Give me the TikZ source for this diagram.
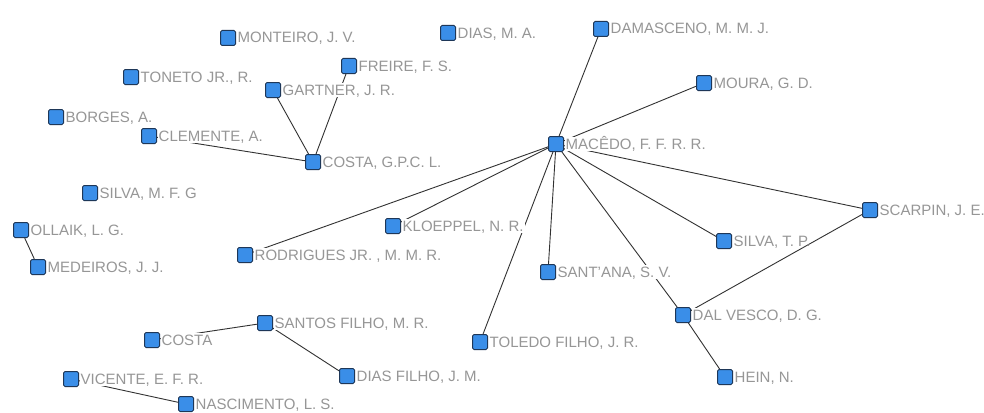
\documentclass[tikz,border=0pt]{standalone}
\usepackage{fontspec}
\setmainfont{Liberation Sans}
\usetikzlibrary{positioning,backgrounds}
\definecolor{nodeblue}{RGB}{58,142,232}
\definecolor{nodeedge}{RGB}{30,55,88}
\definecolor{lblgray}{RGB}{150,150,150}
\definecolor{edgegray}{RGB}{50,50,50}
\tikzset{
  sq/.style={draw=nodeedge, fill=nodeblue, line width=1pt, rounded corners=1.5pt,
    minimum size=15pt, inner sep=0pt},
  lbl/.style={text=lblgray, fill=white, font=\fontsize{15}{16}\selectfont,
    text height=11pt, text depth=1pt, inner xsep=1pt, inner ysep=1pt, anchor=west},
  nofill/.style={fill=none},
  link/.style={draw=edgegray, line width=0.9pt},
}
\newcommand{\person}[5][]{%
  \node[sq] (#2) at (#3,#4) {};
  \node[lbl,#1] (#2-l) at ([xshift=0.5pt]#2.east) {#5};}
\begin{document}
\begin{tikzpicture}[x=1pt,y=-1pt]
\useasboundingbox (0,0) rectangle (984,412);
\person{monteiro}{228}{38}{MONTEIRO, J. V.}
\person{dias}{448}{33}{DIAS, M. A.}
\person{damasceno}{601}{29}{DAMASCENO, M. M. J.}
\person{toneto}{131}{77}{TONETO JR., R.}
\person{freire}{349}{66}{FREIRE, F. S.}
\person{gartner}{273}{90}{GARTNER, J. R.}
\person{moura}{704}{83}{MOURA, G. D.}
\person{borges}{56}{117}{BORGES, A.}
\person{clemente}{149}{136}{CLEMENTE, A.}
\person{macedo}{556}{144}{MACÊDO, F. F. R. R.}
\person{costag}{313}{162}{COSTA, G.P.C. L.}
\person{silvam}{90}{193}{SILVA, M. F. G}
\person{scarpin}{870}{210}{SCARPIN, J. E.}
\person{ollaik}{21}{230}{OLLAIK, L. G.}
\person{kloeppel}{393}{226}{KLOEPPEL, N. R.}
\person[nofill]{silvat}{724}{241}{SILVA, T. P.}
\person{medeiros}{38}{267}{MEDEIROS, J. J.}
\person{rodrigues}{245}{255}{RODRIGUES JR. , M. M. R.}
\person{santana}{548}{272}{SANT'ANA, S. V.}
\person{dalvesco}{683}{315}{DAL VESCO, D. G.}
\person{santos}{265}{323}{SANTOS FILHO, M. R.}
\person{costa}{152}{340}{COSTA}
\person{toledo}{480}{342}{TOLEDO FILHO, J. R.}
\person{diasfilho}{347}{376}{DIAS FILHO, J. M.}
\person{hein}{725}{377}{HEIN, N.}
\person{vicente}{71}{379}{VICENTE, E. F. R.}
\person{nascimento}{186}{404}{NASCIMENTO, L. S.}
\begin{pgfonlayer}{background}
  \fill[white] (0,0) rectangle (984,412);
  \path[link] (gartner) -- (costag);
  \path[link] (freire) -- (costag);
  \path[link] (clemente) -- (costag);
  \path[link] (macedo) -- (damasceno);
  \path[link] (macedo) -- (moura);
  \path[link] (macedo) -- (scarpin);
  \path[link] (macedo) -- (silvat);
  \path[link] (macedo) -- (dalvesco);
  \path[link] (macedo) -- (santana);
  \path[link] (macedo) -- (toledo);
  \path[link] (macedo) -- (kloeppel);
  \path[link] (macedo) -- (rodrigues);
  \path[link] (scarpin) -- (dalvesco);
  \path[link] (dalvesco) -- (hein);
  \path[link] (ollaik) -- (medeiros);
  \path[link] (santos) -- (costa);
  \path[link] (santos) -- (diasfilho);
  \path[link] (vicente) -- (nascimento);
\end{pgfonlayer}
\end{tikzpicture}
\end{document}
